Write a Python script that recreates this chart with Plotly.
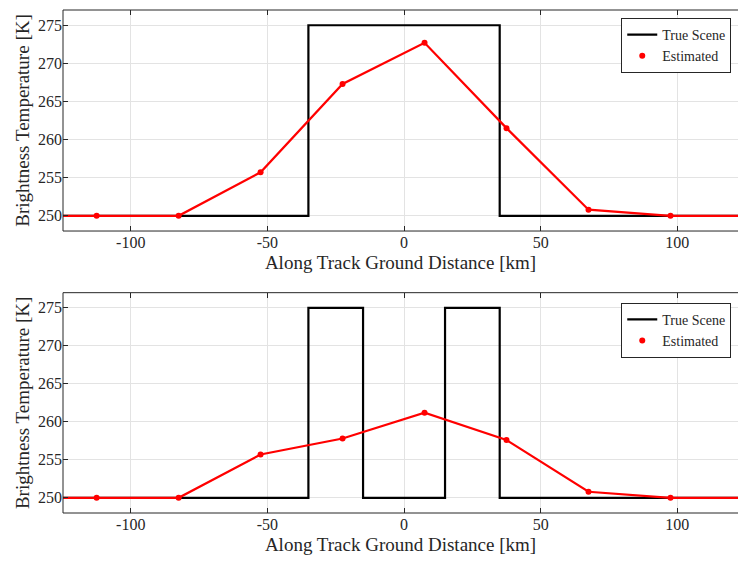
import plotly.graph_objects as go
from plotly.subplots import make_subplots

# Data
est_x = [-112.5, -82.5, -52.5, -22.5, 7.5, 37.5, 67.5, 97.5]
est_top = [250.0, 250.0, 255.7, 267.3, 272.7, 261.5, 250.8, 250.0]
est_bot = [250.0, 250.0, 255.7, 257.8, 261.2, 257.6, 250.8, 250.0]
edge_x = [-125, 125]
edge_val = [250.0, 250.0]

true_x_top = [-125, -35, -35, 35, 35, 125]
true_y_top = [250, 250, 275, 275, 250, 250]
true_x_bot = [-125, -35, -35, -15, -15, 15, 15, 35, 35, 125]
true_y_bot = [250, 250, 275, 275, 250, 250, 275, 275, 250, 250]

xticks = [-100, -50, 0, 50, 100]
yticks = [250, 255, 260, 265, 270, 275]

FONT = "'Liberation Serif', 'Times New Roman', serif"
RED = "#ff0000"
TXT = "#262626"
axcol = "#262626"

fig = make_subplots(rows=2, cols=1, vertical_spacing=0.1)

def add_panel(row, tx, ty, ey, legend):
    fig.add_trace(go.Scatter(x=tx, y=ty, mode="lines", name="True Scene",
                             line=dict(color="black", width=2.2),
                             legend=legend), row=row, col=1)
    lx = [edge_x[0]] + est_x + [edge_x[1]]
    ly = [edge_val[0]] + ey + [edge_val[1]]
    fig.add_trace(go.Scatter(x=lx, y=ly, mode="lines", showlegend=False,
                             line=dict(color=RED, width=2.2)), row=row, col=1)
    fig.add_trace(go.Scatter(x=est_x, y=ey, mode="markers", name="Estimated",
                             marker=dict(color=RED, size=6),
                             legend=legend), row=row, col=1)

add_panel(1, true_x_top, true_y_top, est_top, "legend")
add_panel(2, true_x_bot, true_y_bot, est_bot, "legend2")

for r in (1, 2):
    fig.update_xaxes(range=[-124.8, 122.2], tickvals=xticks,
                     ticktext=[str(v) for v in xticks],
                     showgrid=True, gridcolor="#e3e3e3", gridwidth=1,
                     showline=False, mirror="ticks",
                     ticks="inside", ticklen=5, tickcolor=axcol,
                     zeroline=False,
                     tickfont=dict(family=FONT, size=16, color=TXT),
                     title=dict(text="Along Track Ground Distance [km]",
                                font=dict(family=FONT, size=19, color=TXT),
                                standoff=5),
                     row=r, col=1)
    fig.update_yaxes(range=[248, 277], tickvals=yticks,
                     showgrid=True, gridcolor="#e3e3e3", gridwidth=1,
                     showline=False, mirror=False,
                     ticks="inside", ticklen=5, tickcolor=axcol,
                     zeroline=False,
                     tickfont=dict(family=FONT, size=16, color=TXT),
                     title=dict(text="Brightness Temperature [K]",
                                font=dict(family=FONT, size=19, color=TXT),
                                standoff=3),
                     row=r, col=1)

# box border: left, bottom, top (right side is cropped in the original)
for xr, yr in (("x domain", "y domain"), ("x2 domain", "y2 domain")):
    for (x0, y0, x1, y1) in ((0, 0, 1, 0), (0, 1, 1, 1), (0, 0, 0, 1)):
        fig.add_shape(type="line", xref=xr, yref=yr, x0=x0, y0=y0, x1=x1, y1=y1,
                      line=dict(color=axcol, width=1), layer="above")

fig.update_layout(
    width=738, height=561,
    margin=dict(l=63, r=0, t=10, b=48),
    plot_bgcolor="white", paper_bgcolor="white",
    xaxis=dict(domain=[0, 1]), yaxis=dict(domain=[0.5606, 1]),
    xaxis2=dict(domain=[0, 1]), yaxis2=dict(domain=[0, 0.438]),
    legend=dict(x=0.99, y=0.984, xanchor="right", yanchor="top",
                bgcolor="white", bordercolor=axcol, borderwidth=1,
                font=dict(family=FONT, size=14, color=TXT),
                itemwidth=30, tracegroupgap=0),
    legend2=dict(x=0.99, y=0.418, xanchor="right", yanchor="top",
                 bgcolor="white", bordercolor=axcol, borderwidth=1,
                 font=dict(family=FONT, size=14, color=TXT),
                 itemwidth=30, tracegroupgap=0),
)

fig.write_html("out.html")
